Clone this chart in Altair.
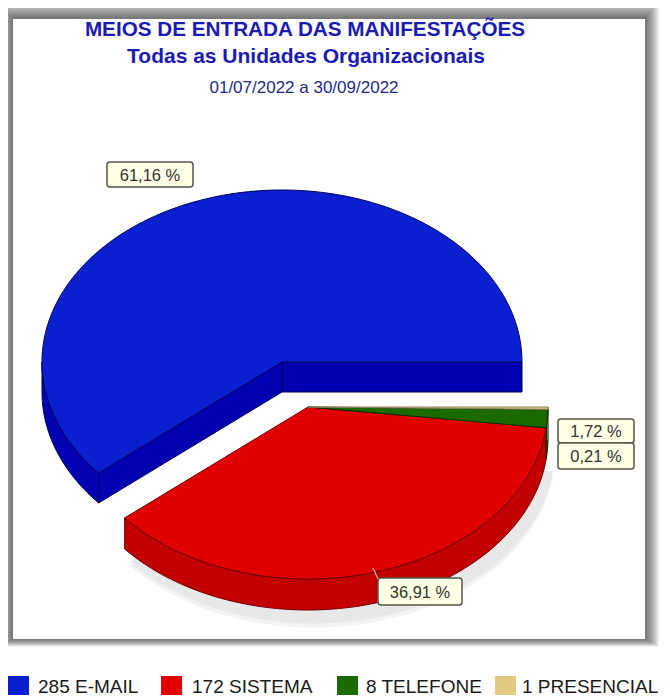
import math
import altair as alt
import pandas as pd

# ---- data
categories = ["E-MAIL", "SISTEMA", "TELEFONE", "PRESENCIAL"]
counts = [285, 172, 8, 1]
pct_labels = ["61,16 %", "36,91 %", "1,72 %", "0,21 %"]
legend_labels = ["285 E-MAIL", "172 SISTEMA", "8 TELEFONE", "1 PRESENCIAL"]
top_colors = ["#0a20d0", "#e00000", "#1b6a00", "#e3ca80"]
side_colors = ["#0000b0", "#c20000", "#0f4a00", "#a89a70"]
line_colors = ["#00005a", "#6a0000", "#0a2a00", "#8a8060"]
titles = [
    ("MEIOS DE ENTRADA DAS MANIFESTAÇÕES", 305, 30, 20.7, "bold", "#1a1ab4"),
    ("Todas as Unidades Organizacionais", 306, 57, 21, "bold", "#1a1ab4"),
    ("01/07/2022 a 30/09/2022", 304, 88, 17, "normal", "#1e2a8c"),
]

X0, X1, Y0, Y1 = 8, 662, 8, 697
x_s = alt.X("x:Q", scale=alt.Scale(domain=[X0, X1]), axis=None)
y_s = alt.Y("y:Q", scale=alt.Scale(domain=[Y1, Y0]), axis=None)

RX, RY, DEPTH = 240, 172, 30
centers = [(282, 362), (308, 407), (308, 407), (308, 407)]
total = sum(counts)
ang = [0]
for c in counts:
    ang.append(ang[-1] + 360 * c / total)


def pt(c, a, dy=0):
    r = math.radians(a)
    return (c[0] + RX * math.cos(r), c[1] - RY * math.sin(r) + dy)


def arc(c, a0, a1, dy=0):
    n = max(2, int(abs(a1 - a0) / 1.5))
    return [pt(c, a0 + (a1 - a0) * k / n, dy) for k in range(n + 1)]


def poly(points, fill, stroke=None, opacity=1.0, sw=1.0):
    df = pd.DataFrame({"x": [p[0] for p in points] + [points[0][0]],
                       "y": [p[1] for p in points] + [points[0][1]]})
    df["i"] = range(len(df))
    return alt.Chart(df).mark_line(
        fill=fill, stroke=stroke or fill, strokeWidth=sw, opacity=opacity,
        interpolate="linear",
    ).encode(x=x_s, y=y_s, order="i:Q")


def rect(x, x2, y, y2, fill, opacity=1.0, stroke=None, radius=0):
    df = pd.DataFrame({"x": [x], "x2": [x2], "y": [y], "y2": [y2]})
    kw = {"stroke": stroke, "strokeWidth": 1.5} if stroke else {}
    return alt.Chart(df).mark_rect(fill=fill, opacity=opacity, cornerRadius=radius, **kw).encode(
        x=x_s, x2="x2:Q", y=y_s, y2="y2:Q")


def text(s, x, y, size, color, weight="normal", align="center", font="Liberation Sans"):
    df = pd.DataFrame({"x": [x], "y": [y], "t": [s]})
    return alt.Chart(df).mark_text(
        fontSize=size, color=color, fontWeight=weight, align=align, baseline="middle", font=font
    ).encode(x=x_s, y=y_s, text="t:N")


layers = []
# panel shadow
for k in range(14, 0, -1):
    layers.append(rect(13 - k, 645 + k, 19 - k * 1.3, 639 + k * 0.55, "#000000", 0.05))
layers.append(rect(13, 645, 19, 639, "#ffffff"))

# soft shadow under the exploded slice
for off, col in ((18, "#f3f3f3"), (14, "#e8e8e8")):
    sc = (centers[1][0] + 6, centers[1][1] + DEPTH + off)
    layers.append(poly([(sc[0], sc[1])] + arc(sc, ang[1], ang[2]), col))

# blue slice: walls then top
c = centers[0]
layers.append(poly(arc(c, 180, ang[1]) + arc(c, ang[1], 180, DEPTH), side_colors[0], line_colors[0]))
layers.append(poly([c, pt(c, ang[1]), pt(c, ang[1], DEPTH), (c[0], c[1] + DEPTH)], side_colors[0], line_colors[0]))
layers.append(poly([c, pt(c, 0), pt(c, 0, DEPTH), (c[0], c[1] + DEPTH)], side_colors[0], line_colors[0]))
layers.append(poly([c] + arc(c, ang[0], ang[1]), top_colors[0], line_colors[0]))

# exploded slices: walls then tops
for i in (1, 2, 3):
    c = centers[i]
    layers.append(poly(arc(c, ang[i], ang[i + 1]) + arc(c, ang[i + 1], ang[i], DEPTH + 1),
                       side_colors[i], line_colors[i]))
for i in (1, 2, 3):
    c = centers[i]
    layers.append(poly([c] + arc(c, ang[i], ang[i + 1]), top_colors[i], line_colors[i]))

# leader of the red label
layers.append(alt.Chart(pd.DataFrame({"x": [373], "y": [568], "x2": [378], "y2": [579]})).mark_rule(
    color="#e8e8e8", strokeWidth=1).encode(x=x_s, y=y_s, x2="x2:Q", y2="y2:Q"))

# percent labels
boxes = [(107, 193, 162, 187, 150), (378, 462, 578, 605, 420), (558, 634, 419, 443, 596), (558, 634, 443, 469, 596)]
for (x, x2, y, y2, tx), lab in zip(boxes, pct_labels):
    layers.append(rect(x, x2, y, y2, "#ffffe6", stroke="#55554a", radius=3))
    layers.append(text(lab, tx, (y + y2) / 2 + 1, 16.5, "#33332e"))

# titles
for s, x, y, size, w, col in titles:
    layers.append(text(s, x, y, size, col, weight=w))

# legend
sw_x = [8, 161, 337, 495]
tx_x = [38, 192, 366, 522]
for sx, tx, col, lab in zip(sw_x, tx_x, top_colors, legend_labels):
    layers.append(rect(sx, sx + 21, 676, 695, col))
    layers.append(text(lab, tx, 687, 19, "#1a1a1a", align="left"))

chart = alt.layer(*layers).properties(
    width=X1 - X0, height=Y1 - Y0, padding=0, autosize=alt.AutoSizeParams(type="none"),
).configure_view(stroke=None)

chart.save("out.html", embed_options={"renderer": "svg", "actions": False})
